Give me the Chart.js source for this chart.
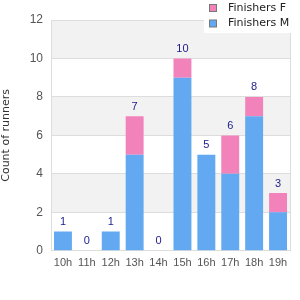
<!DOCTYPE html>
<html lang="en">
<head>
    <title>Finishers per hour</title>
    <script src="https://cdn.jsdelivr.net/npm/chart.js"></script>
    <style>
        body { margin: 0; background: #fff; }
    </style>
</head>
<body>
    <canvas id="myChart" width="300" height="300"></canvas>
    <script>
        const hours = ['10h', '11h', '12h', '13h', '14h', '15h', '16h', '17h', '18h', '19h'];
        const finishersM = [1, 0, 1, 5, 0, 9, 5, 4, 7, 2];
        const finishersF = [0, 0, 0, 2, 0, 1, 0, 2, 1, 1];
        const yTicks = [0, 2, 4, 6, 8, 10, 12];

        const FONT = 'Arial, "Liberation Sans", sans-serif';
        const FONT2 = '"DejaVu Sans", sans-serif';

        // alternating grey bands behind the bars
        const bands = {
            id: 'bands',
            beforeDraw(chart) {
                const { ctx, chartArea, scales } = chart;
                const y = scales.y;
                ctx.save();
                for (let i = 0; i < yTicks.length - 1; i++) {
                    if (i % 2 === 0) continue;
                    const top = y.getPixelForValue(yTicks[i + 1]);
                    const bottom = y.getPixelForValue(yTicks[i]);
                    ctx.fillStyle = '#f2f2f2';
                    ctx.fillRect(chartArea.left, top, chartArea.right - chartArea.left, bottom - top);
                }
                ctx.restore();
            },
            afterDraw(chart) {
                const { ctx, chartArea } = chart;
                ctx.save();
                ctx.strokeStyle = '#dddddd';
                ctx.lineWidth = 1;
                ctx.beginPath();
                ctx.moveTo(chartArea.right + 0.5, chartArea.top);
                ctx.lineTo(chartArea.right + 0.5, chartArea.bottom);
                ctx.stroke();
                ctx.restore();
            }
        };

        // totals above each stack
        const totals = {
            id: 'totals',
            afterDatasetsDraw(chart) {
                const { ctx, scales } = chart;
                ctx.save();
                ctx.font = '11px ' + FONT;
                ctx.fillStyle = '#1c1c8a';
                ctx.textAlign = 'center';
                ctx.textBaseline = 'bottom';
                hours.forEach((h, i) => {
                    const total = finishersM[i] + finishersF[i];
                    const x = scales.x.getPixelForValue(i);
                    const y = scales.y.getPixelForValue(total);
                    ctx.fillText(String(total), x, y - 4);
                });
                ctx.restore();
            }
        };

        // legend in the top right corner, F above M
        const boxLegend = {
            id: 'boxLegend',
            afterDraw(chart) {
                const { ctx } = chart;
                const items = chart.data.datasets.slice().reverse();
                ctx.save();
                ctx.fillStyle = '#ffffff';
                ctx.fillRect(204, 0, 96, 33);
                ctx.font = '11px ' + FONT2;
                ctx.textBaseline = 'middle';
                items.forEach((ds, i) => {
                    const cy = 8 + i * 15.5;
                    ctx.fillStyle = ds.backgroundColor;
                    ctx.fillRect(209.5, cy - 3.5, 7, 7);
                    ctx.strokeStyle = '#777777';
                    ctx.lineWidth = 1;
                    ctx.strokeRect(209.5, cy - 3.5, 7, 7);
                    ctx.fillStyle = '#222222';
                    ctx.fillText(ds.label, 228, cy);
                });
                ctx.restore();
            }
        };

        const ctx = document.getElementById('myChart').getContext('2d');
        new Chart(ctx, {
            type: 'bar',
            data: {
                labels: hours,
                datasets: [
                    {
                        label: 'Finishers M',
                        data: finishersM,
                        backgroundColor: '#62a9f2'
                    },
                    {
                        label: 'Finishers F',
                        data: finishersF,
                        backgroundColor: '#f283ba'
                    }
                ]
            },
            options: {
                responsive: false,
                animation: false,
                layout: { padding: { top: 20, right: 10, bottom: 24, left: 0 } },
                plugins: {
                    legend: { display: false },
                    tooltip: { enabled: false }
                },
                datasets: {
                    bar: { categoryPercentage: 0.75, barPercentage: 1 }
                },
                scales: {
                    x: {
                        stacked: true,
                        grid: { display: false, drawTicks: false },
                        border: { color: '#dddddd' },
                        ticks: { padding: 6, color: '#555555', font: { size: 11, family: FONT }, maxRotation: 0 }
                    },
                    y: {
                        stacked: true,
                        min: 0,
                        max: 12,
                        afterFit(scale) { scale.width = 51; },
                        grid: { color: '#dddddd', drawTicks: false },
                        border: { color: '#dddddd' },
                        ticks: {
                            stepSize: 2,
                            padding: 8,
                            color: '#555555',
                            font: { size: 12, family: FONT }
                        },
                        title: {
                            display: true,
                            text: 'Count of runners',
                            color: '#333333',
                            padding: 0,
                            font: { size: 11, family: FONT2 }
                        }
                    }
                }
            },
            plugins: [bands, totals, boxLegend]
        });
    </script>
</body>
</html>
